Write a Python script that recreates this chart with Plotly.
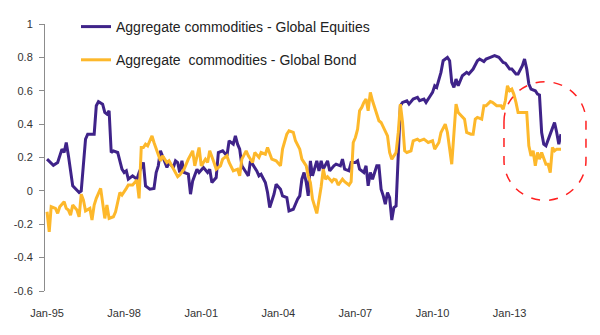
import plotly.graph_objects as go

# ---------------- data ----------------
equity_dates = [
    "1995-01", "1995-04", "1995-06", "1995-08", "1995-09", "1995-10", "1995-11", "1995-12",
    "1996-01", "1996-04", "1996-05", "1996-07", "1996-08", "1996-09", "1996-11", "1996-12",
    "1997-01", "1997-03", "1997-04", "1997-05", "1997-06", "1997-07", "1997-08", "1997-10", "1997-12",
    "1998-01", "1998-02", "1998-03", "1998-05", "1998-07", "1998-08", "1998-10", "1998-11",
    "1999-01", "1999-03", "1999-04", "1999-05", "1999-06", "1999-07", "1999-09", "1999-10", "1999-12",
    "2000-01", "2000-02", "2000-03", "2000-04", "2000-05", "2000-07", "2000-08", "2000-09", "2000-11", "2000-12",
    "2001-02", "2001-04", "2001-05", "2001-06", "2001-08", "2001-09", "2001-11",
    "2002-01", "2002-02", "2002-04", "2002-05", "2002-06", "2002-07", "2002-08", "2002-10", "2002-11", "2002-12",
    "2003-01", "2003-03", "2003-04", "2003-05", "2003-07", "2003-08", "2003-09", "2003-11", "2003-12",
    "2004-02", "2004-03", "2004-05", "2004-06", "2004-08", "2004-10", "2004-11", "2004-12",
    "2005-01", "2005-02", "2005-03", "2005-04", "2005-05", "2005-07", "2005-08", "2005-09", "2005-10", "2005-12",
    "2006-01", "2006-03", "2006-04", "2006-06", "2006-07", "2006-08", "2006-10", "2006-11",
    "2007-01", "2007-02", "2007-03", "2007-05", "2007-06", "2007-07", "2007-08", "2007-09", "2007-11", "2007-12",
    "2008-01", "2008-02", "2008-03", "2008-04", "2008-05", "2008-06", "2008-07", "2008-08", "2008-09", "2008-10", "2008-11",
    "2009-01", "2009-02", "2009-04", "2009-06", "2009-07", "2009-09", "2009-10", "2009-12",
    "2010-01", "2010-02", "2010-03", "2010-05", "2010-06", "2010-08", "2010-09", "2010-10", "2010-11", "2010-12",
    "2011-01", "2011-03", "2011-05", "2011-06", "2011-08", "2011-10", "2011-11",
    "2012-01", "2012-02", "2012-04", "2012-06", "2012-08", "2012-10", "2012-11",
    "2013-01", "2013-02", "2013-04", "2013-05", "2013-07", "2013-08", "2013-09", "2013-10", "2013-11",
    "2014-01", "2014-02", "2014-03", "2014-04", "2014-05", "2014-06", "2014-08", "2014-09", "2014-10", "2014-11", "2014-12",
    "2015-01",
]
equity_values = [
    0.19, 0.153, 0.17, 0.25, 0.23, 0.29, 0.21, 0.13,
    0.03, -0.01, 0.0, 0.31, 0.34, 0.34, 0.34, 0.51,
    0.535, 0.52, 0.47, 0.46, 0.48, 0.23, 0.24, 0.23, 0.13,
    0.11, 0.12, 0.07, 0.09, 0.07, 0.11, 0.17, 0.03,
    0.01, 0.015, 0.11, 0.15, 0.24, 0.21, 0.14, 0.17, 0.14,
    0.18, 0.17, 0.11, 0.18, 0.11, 0.10, -0.02, 0.06, 0.13, 0.11,
    0.14, 0.11, 0.13, 0.05, 0.08, 0.23, 0.24,
    0.21, 0.30, 0.28, 0.33, 0.28, 0.25, 0.15, 0.11, 0.09, 0.18,
    0.16, 0.12, 0.09, 0.10, 0.05, -0.01, -0.10, -0.02, 0.04,
    0.01, -0.03, -0.04, -0.12, -0.11, -0.05, -0.03, 0.07,
    0.11, 0.05, -0.03, 0.18, 0.09, 0.18, 0.12, 0.18, 0.13, 0.18,
    0.12, 0.15, 0.16, 0.15, 0.19, 0.13, 0.12, 0.17,
    0.17, 0.18, 0.13, 0.11, 0.15, 0.03, 0.11, 0.07, 0.15, 0.15,
    0.01, -0.03, -0.08, -0.01, -0.04, -0.175, -0.10, -0.09, 0.21, 0.51, 0.53,
    0.54, 0.52, 0.55, 0.56, 0.54, 0.55, 0.53, 0.57,
    0.59, 0.63, 0.62, 0.71, 0.78, 0.80, 0.78, 0.65, 0.62, 0.67,
    0.63, 0.69, 0.71, 0.70, 0.73, 0.78, 0.79,
    0.775, 0.79, 0.80, 0.81, 0.80, 0.77, 0.765,
    0.73, 0.73, 0.70, 0.70, 0.75, 0.79, 0.73, 0.64, 0.61,
    0.60, 0.58, 0.575, 0.35, 0.28, 0.27, 0.34, 0.37, 0.41, 0.35, 0.28,
    0.34,
]

bond_dates = [
    "1995-01", "1995-02", "1995-03", "1995-05", "1995-06", "1995-07", "1995-09", "1995-10", "1995-11", "1995-12",
    "1996-01", "1996-03", "1996-04", "1996-05", "1996-06", "1996-07", "1996-09", "1996-10", "1996-11", "1996-12",
    "1997-02", "1997-03", "1997-04", "1997-05", "1997-06", "1997-08", "1997-09", "1997-11", "1997-12",
    "1998-02", "1998-03", "1998-05", "1998-07", "1998-08", "1998-09", "1998-10", "1998-11", "1998-12",
    "1999-02", "1999-03", "1999-04", "1999-06", "1999-07", "1999-09", "1999-10", "1999-12",
    "2000-02", "2000-03", "2000-04", "2000-05", "2000-07", "2000-09", "2000-10", "2000-12",
    "2001-01", "2001-03", "2001-04", "2001-05", "2001-07", "2001-08", "2001-10", "2001-11",
    "2002-01", "2002-02", "2002-04", "2002-06", "2002-07", "2002-08", "2002-10", "2002-11",
    "2003-01", "2003-02", "2003-04", "2003-05", "2003-07", "2003-08", "2003-10", "2003-12",
    "2004-02", "2004-03", "2004-05", "2004-06", "2004-08", "2004-09", "2004-11", "2004-12",
    "2005-02", "2005-03", "2005-04", "2005-05", "2005-07", "2005-08", "2005-09", "2005-10", "2005-11", "2005-12",
    "2006-02", "2006-03", "2006-04", "2006-05", "2006-07", "2006-08", "2006-10", "2006-11", "2006-12",
    "2007-01", "2007-02", "2007-03", "2007-04", "2007-05", "2007-06", "2007-07", "2007-08", "2007-09", "2007-11", "2007-12",
    "2008-01", "2008-03", "2008-04", "2008-05", "2008-06", "2008-08", "2008-09", "2008-10", "2008-11", "2008-12",
    "2009-01", "2009-03", "2009-04", "2009-06", "2009-07", "2009-09", "2009-11",
    "2010-01", "2010-02", "2010-04", "2010-05", "2010-07", "2010-08", "2010-10", "2010-11", "2010-12",
    "2011-01", "2011-03", "2011-04", "2011-05", "2011-07", "2011-08", "2011-09", "2011-10", "2011-12",
    "2012-01", "2012-02", "2012-04", "2012-05", "2012-07", "2012-09", "2012-10", "2012-11", "2012-12",
    "2013-01", "2013-02", "2013-03", "2013-04", "2013-05", "2013-07", "2013-09", "2013-10", "2013-11", "2013-12",
    "2014-01", "2014-02", "2014-03", "2014-04", "2014-06", "2014-07", "2014-08", "2014-09", "2014-10", "2014-11",
    "2015-01",
]
bond_values = [
    -0.125, -0.245, -0.095, -0.105, -0.135, -0.095, -0.065, -0.105, -0.115, -0.145,
    -0.085, -0.115, -0.155, -0.02, -0.055, -0.12, -0.105, -0.175, -0.085, -0.045,
    0.015, -0.085, -0.165, -0.085, -0.165, -0.155, -0.125, -0.01, -0.025,
    0.015, 0.035, 0.035, 0.065, -0.045, 0.26, 0.26, 0.28, 0.27,
    0.33, 0.29, 0.25, 0.18, 0.21, 0.17, 0.18, 0.13,
    0.085, 0.095, 0.11, 0.13, 0.19, 0.24, 0.15, 0.26,
    0.15, 0.19, 0.17, 0.24, 0.17, 0.13, 0.15, 0.19,
    0.21, 0.17, 0.12, 0.13, 0.09, 0.19, 0.24, 0.21,
    0.17, 0.23, 0.20, 0.23, 0.22, 0.26, 0.19, 0.18,
    0.15, 0.25, 0.34, 0.36, 0.35, 0.30, 0.25, 0.19,
    0.15, 0.09, 0.05, -0.05, -0.135, -0.065, 0.025, 0.13, 0.07, 0.085,
    0.055, 0.07, 0.065, 0.035, 0.07, 0.055, 0.035, 0.055, 0.29,
    0.32, 0.37, 0.48, 0.50, 0.53, 0.55, 0.48, 0.59, 0.54, 0.45, 0.42,
    0.41, 0.35, 0.33, 0.23, 0.19, 0.23, 0.35, 0.52, 0.41, 0.24,
    0.23, 0.24, 0.30, 0.31, 0.30, 0.31, 0.29,
    0.30, 0.25, 0.29, 0.35, 0.40, 0.35, 0.16, 0.35, 0.52,
    0.47, 0.44, 0.43, 0.35, 0.34, 0.34, 0.43, 0.44, 0.43,
    0.51, 0.51, 0.535, 0.53, 0.51, 0.51, 0.49, 0.54, 0.63,
    0.60, 0.61, 0.58, 0.53, 0.47, 0.47, 0.47, 0.27, 0.21, 0.24,
    0.15, 0.23, 0.19, 0.23, 0.16, 0.16, 0.11, 0.26, 0.24, 0.25,
    0.25,
]

x_tick_dates = ["1995-01-01", "1998-01-01", "2001-01-01", "2004-01-01",
                "2007-01-01", "2010-01-01", "2013-01-01"]
x_tick_labels = ["Jan-95", "Jan-98", "Jan-01", "Jan-04", "Jan-07", "Jan-10", "Jan-13"]
y_tick_values = [-0.6, -0.4, -0.2, 0, 0.2, 0.4, 0.6, 0.8, 1]
y_tick_labels = ["-0.6", "-0.4", "-0.2", "0", "0.2", "0.4", "0.6", "0.8", "1"]

assert len(equity_dates) == len(equity_values)
assert len(bond_dates) == len(bond_values)

PURPLE = "#3f2389"
GOLD = "#fdb82b"
AXIS = "#8c8c8c"
FONT = "Liberation Sans, Arial, sans-serif"

fig = go.Figure()
fig.add_trace(go.Scatter(
    x=equity_dates, y=equity_values, mode="lines",
    name="Aggregate commodities - Global Equities",
    line=dict(color=PURPLE, width=3), legendgroup="a", legendrank=1,
))
fig.add_trace(go.Scatter(
    x=bond_dates, y=bond_values, mode="lines",
    name="Aggregate\u00a0 commodities - Global Bond",
    line=dict(color=GOLD, width=3), legendgroup="b", legendrank=2,
))

x_range = ["1994-12-03", "2015-01-01"]

# plot area in pixels: left 45, right 561, top 23, bottom 291
L, R, T, B = 45, 561, 23, 291


def px(xp, yp):
    return (xp - L) / (R - L), (B - yp) / (B - T)


# dashed rounded outline around the recent period
sl, sr, st, sb = 504, 586, 81, 200
rx, ry, k = (sr - sl) / 2, 40, 0.5523
pts = [
    ("M", [(sl, st + ry)]),
    ("C", [(sl, st + ry - k * ry), (sl + rx - k * rx, st), (sl + rx, st)]),
    ("C", [(sl + rx + k * rx, st), (sr, st + ry - k * ry), (sr, st + ry)]),
    ("L", [(sr, sb - ry)]),
    ("C", [(sr, sb - ry + k * ry), (sr - rx + k * rx, sb), (sr - rx, sb)]),
    ("C", [(sr - rx - k * rx, sb), (sl, sb - ry + k * ry), (sl, sb - ry)]),
]
path = ""
for cmd, plist in pts:
    path += cmd + " " + " ".join("%.4f,%.4f" % px(a, b) for a, b in plist) + " "
path += "Z"

fig.add_shape(type="path", path=path, xref="paper", yref="paper",
              line=dict(color="#ff2020", width=1.5, dash="dash"))

fig.update_layout(
    width=600, height=335,
    margin=dict(l=L, r=600 - R, t=T, b=335 - B),
    paper_bgcolor="white", plot_bgcolor="white",
    font=dict(family=FONT, size=11, color="#333333"),
    showlegend=True,
    legend=dict(
        x=(76 - L) / (R - L), y=(B - 11) / (B - T), xanchor="left", yanchor="top",
        font=dict(size=14, color="#222222", family=FONT),
        bgcolor="rgba(0,0,0,0)", tracegroupgap=12, traceorder="grouped",
    ),
    xaxis=dict(
        type="date", range=x_range, tickvals=x_tick_dates, ticktext=x_tick_labels,
        showgrid=False, zeroline=False, showline=False,
        ticks="outside", ticklen=12, tickcolor="rgba(0,0,0,0)",
        tickfont=dict(size=11, color="#333333"),
    ),
    xaxis2=dict(
        type="date", range=x_range, tickvals=x_tick_dates, overlaying="x",
        anchor="free", position=0.6 / 1.6, showticklabels=False,
        showgrid=False, zeroline=False, showline=True, linecolor=AXIS, linewidth=1,
        ticks="outside", ticklen=5, tickcolor=AXIS,
    ),
    yaxis=dict(
        range=[-0.6, 1], tickvals=y_tick_values, ticktext=y_tick_labels,
        showgrid=False, zeroline=False, showline=True, linecolor=AXIS, linewidth=1,
        ticks="outside", ticklen=5, tickcolor=AXIS, ticklabelstandoff=4,
        tickfont=dict(size=11, color="#333333"),
    ),
)

fig.write_html("out.html")
